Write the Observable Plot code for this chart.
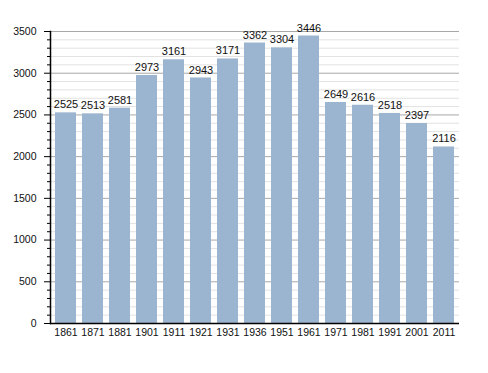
<!DOCTYPE html>
<html>
<head>
<meta charset="utf-8">
<script src="https://cdn.jsdelivr.net/npm/d3@7"></script>
<script src="https://cdn.jsdelivr.net/npm/@observablehq/plot@0.6"></script>
<style>
  html, body { margin: 0; padding: 0; background: #fff; }
  #chart svg { display: block; }
</style>
</head>
<body>
<div id="chart"></div>
<script>
const years = ["1861","1871","1881","1901","1911","1921","1931","1936","1951","1961","1971","1981","1991","2001","2011"];
const population = [2525,2513,2581,2973,3161,2943,3171,3362,3304,3446,2649,2616,2518,2397,2116];
const majorTicks = [0,500,1000,1500,2000,2500,3000,3500];
const minorTicks = d3.range(0, 3501, 100).filter(v => v % 500 !== 0);

const data = years.map((y, i) => ({year: y, value: population[i]}));

const chart = Plot.plot({
  width: 488,
  height: 373,
  marginTop: 31,
  marginBottom: 50,
  marginLeft: 50,
  marginRight: 29,
  style: {fontFamily: "'Liberation Sans', Arial, sans-serif", fontSize: "10.5px", color: "#222", background: "#fff"},
  x: {domain: years, paddingInner: 0.22, paddingOuter: 0.03, label: null},
  y: {domain: [0, 3500], label: null},
  marks: [
    Plot.ruleY(minorTicks, {stroke: "#e2e2e2", strokeWidth: 1}),
    Plot.ruleY(majorTicks, {stroke: "#a8a8a8", strokeWidth: 1}),
    Plot.barY(data, {x: "year", y: "value", fill: "#9bb4cf"}),
    Plot.text(data, {x: "year", y: "value", text: d => String(d.value), dy: -8, fill: "#111", fontSize: 11}),
    Plot.axisY({ticks: minorTicks, tickSize: 3, tickFormat: () => "", stroke: "#000"}),
    Plot.axisY({ticks: majorTicks, tickSize: 6, tickPadding: 8, tickFormat: d => String(d), stroke: "#000", fill: "#111"}),
    Plot.axisX({tickSize: 0, tickPadding: 5, fill: "#111"}),
    Plot.ruleY([0], {stroke: "#000", strokeWidth: 1.5}),
    Plot.frame({anchor: "left", stroke: "#000", strokeWidth: 1.5})
  ]
});
document.getElementById("chart").append(chart);
</script>
</body>
</html>
